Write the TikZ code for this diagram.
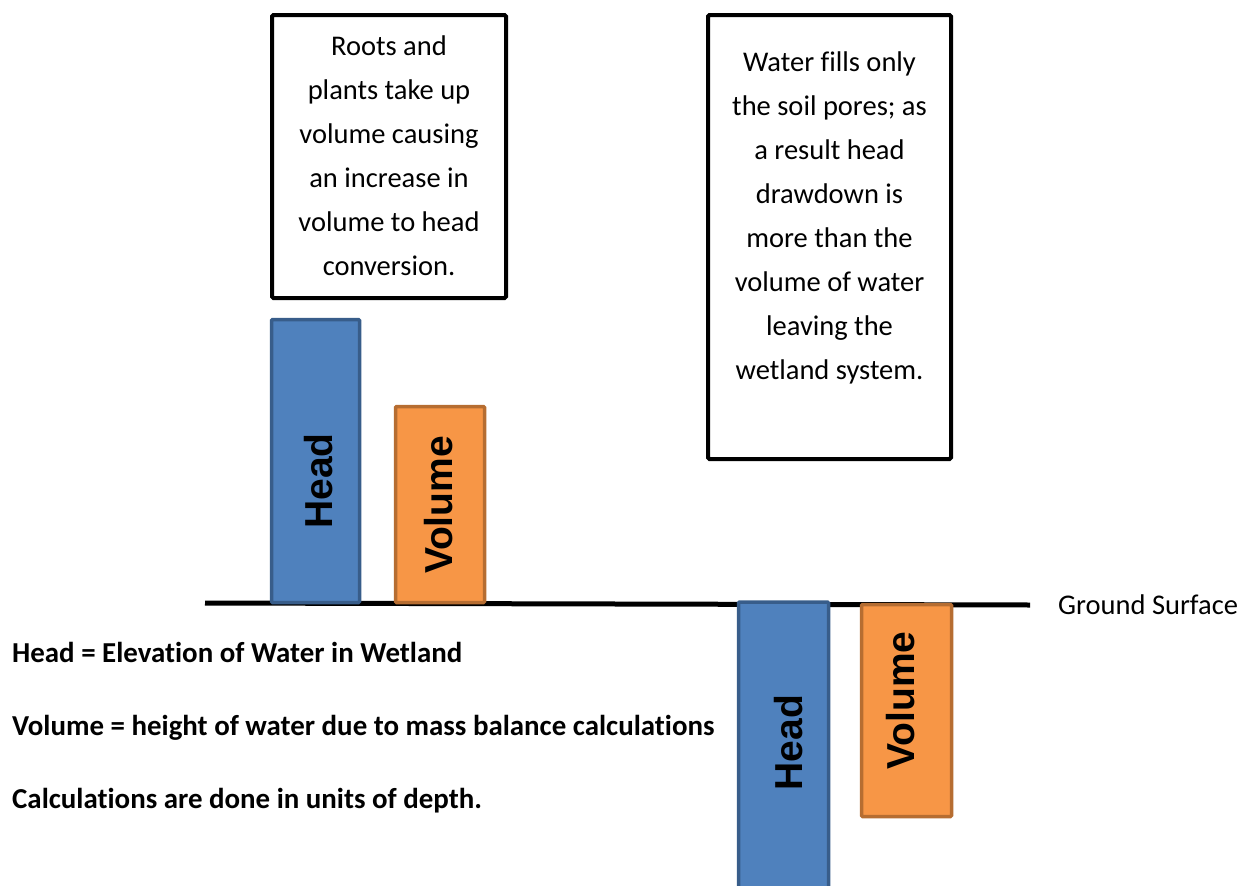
\documentclass[tikz,border=0pt]{standalone}
\usepackage{fontspec}
\setmainfont{Carlito}[Ligatures=NoCommon]
\newfontfamily\barfont{Liberation Sans}
\definecolor{headfill}{HTML}{4F81BD}
\definecolor{headline}{HTML}{385D8A}
\definecolor{volfill}{HTML}{F79646}
\definecolor{volline}{HTML}{B66D31}
\begin{document}
\begin{tikzpicture}[x=1pt,y=-1pt,
  textbox/.style={draw=black, line width=4pt, rounded corners=1.5pt, inner sep=0pt},
  boxtext/.style={align=center, font=\fontsize{28.5}{44}\selectfont, inner sep=0pt},
  bar/.style={line width=3.5pt, inner sep=0pt, rounded corners=1pt},
  headbar/.style={bar, fill=headfill, draw=headline},
  volbar/.style={bar, fill=volfill, draw=volline},
  barlabel/.style={font=\barfont\bfseries\fontsize{39}{39}\selectfont, rotate=90, inner sep=0pt},
  note/.style={font=\bfseries\fontsize{28.9}{34}\selectfont, anchor=base west, inner sep=0pt},
  ground/.style={line width=5pt, black}
]
\useasboundingbox (0,0) rectangle (1248,886);
% ground line
\coordinate (gl) at (205,603);
\coordinate (gr) at (1030,605);
\draw[ground] (gl) -- (gr);
\node[anchor=west, font=\fontsize{28.5}{34}\selectfont, inner sep=0pt] (gs) at (1058,605) {Ground Surface};
% text boxes
\node[textbox, minimum width=234pt, minimum height=283pt] (b1) at (389,156.5) {};
\node[boxtext] (t1) at (389,156) {Roots and\\plants take up\\volume causing\\an increase in\\volume to head\\conversion.};
\node[textbox, minimum width=243pt, minimum height=444pt] (b2) at (829.5,237) {};
\node[boxtext] (t2) at (829.5,218) {Water fills only\\the soil pores; as\\a result head\\drawdown is\\more than the\\volume of water\\leaving the\\wetland system.};
% bars
\node[headbar, minimum width=88pt, minimum height=283pt] (h1) at (315.5,461) {};
\node[volbar, minimum width=89pt, minimum height=196pt] (v1) at (440,504.5) {};
\node[headbar, minimum width=90pt, minimum height=290pt] (h2) at (783.5,747) {};
\node[volbar, minimum width=90pt, minimum height=212pt] (v2) at (906.5,710.5) {};
\node[barlabel] (lh1) at (318.5,481) {Head};
\node[barlabel] (lv1) at (439,505) {Volume};
\node[barlabel] (lh2) at (789,742.5) {Head};
\node[barlabel] (lv2) at (901,700.5) {Volume};
% notes
\node[note] (n1) at (12,662) {Head = Elevation of Water in Wetland};
\node[note] (n2) at (12,735) {Volume = height of water due to mass balance calculations};
\node[note] (n3) at (12,808) {Calculations are done in units of depth.};
\end{tikzpicture}
\end{document}
